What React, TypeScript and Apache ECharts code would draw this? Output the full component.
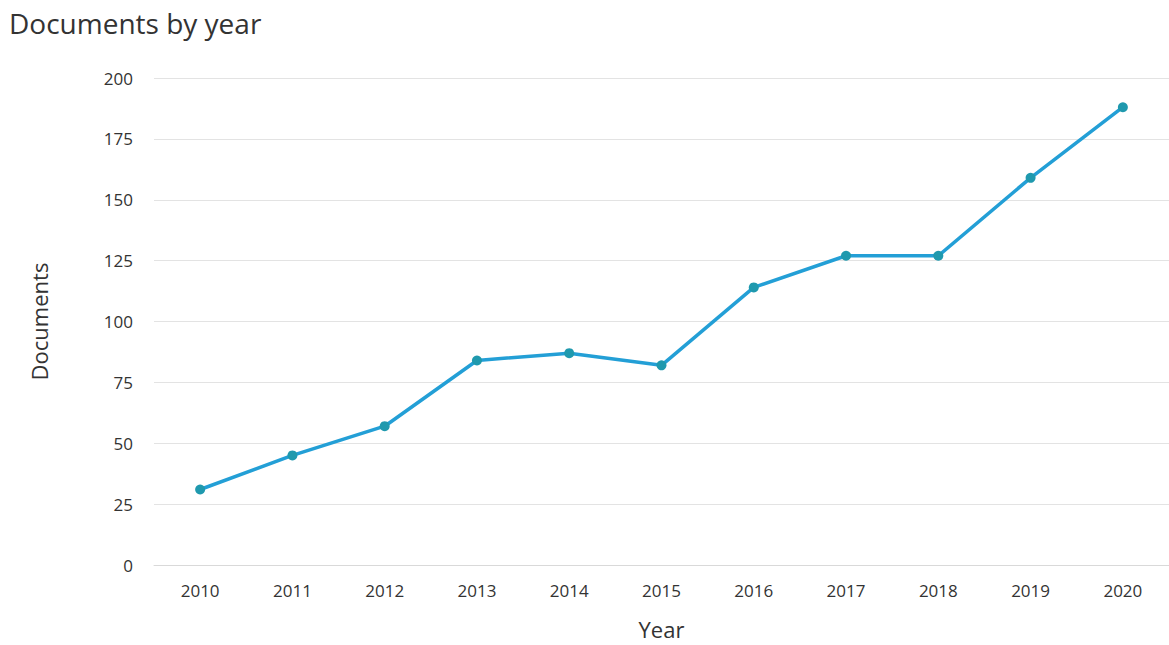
import React, { useEffect, useRef } from "react";
import * as echarts from "echarts";

const years = ["2010", "2011", "2012", "2013", "2014", "2015", "2016", "2017", "2018", "2019", "2020"];
const documents = [31, 45, 57, 84, 87, 82, 114, 127, 127, 159, 188];
const yTicks = [0, 25, 50, 75, 100, 125, 150, 175, 200];

const FONT = "'Open Sans', Lato, sans-serif";

export default function App() {
  const ref = useRef<HTMLDivElement>(null);
  useEffect(() => {
    if (!ref.current) return;
    const chart = echarts.init(ref.current, null, { renderer: "svg" });
    chart.setOption({
      animation: false,
      backgroundColor: "#ffffff",
      title: {
        text: "Documents by year",
        left: 4,
        top: 4,
        textStyle: { fontFamily: FONT, fontSize: 28, fontWeight: "normal", color: "#333333" },
      },
      grid: { left: 154, right: 0, top: 78, bottom: 79 },
      xAxis: {
        type: "category",
        data: years,
        boundaryGap: true,
        name: "Year",
        nameLocation: "middle",
        nameGap: 53,
        nameTextStyle: { fontFamily: FONT, fontSize: 22, color: "#333333" },
        axisLine: { show: true, lineStyle: { color: "#d9d9d9" } },
        axisTick: { show: false },
        axisLabel: { fontFamily: FONT, fontSize: 17, color: "#333333", margin: 17 },
      },
      yAxis: {
        type: "value",
        min: yTicks[0],
        max: yTicks[yTicks.length - 1],
        interval: 25,
        name: "Documents",
        nameLocation: "middle",
        nameGap: 104,
        nameTextStyle: { fontFamily: FONT, fontSize: 22, color: "#333333" },
        axisLine: { show: false },
        axisTick: { show: false },
        axisLabel: { fontFamily: FONT, fontSize: 17, color: "#333333", margin: 21 },
        splitLine: { lineStyle: { color: "#e3e3e3" } },
      },
      series: [
        {
          type: "line",
          data: documents,
          symbol: "circle",
          symbolSize: 10,
          lineStyle: { color: "#239fd6", width: 3.5 },
          itemStyle: { color: "#1f99ae" },
        },
      ],
    });
    return () => chart.dispose();
  }, []);
  return <div ref={ref} style={{ width: 1169, height: 645, position: "absolute", left: 0, top: 0 }} />;
}
